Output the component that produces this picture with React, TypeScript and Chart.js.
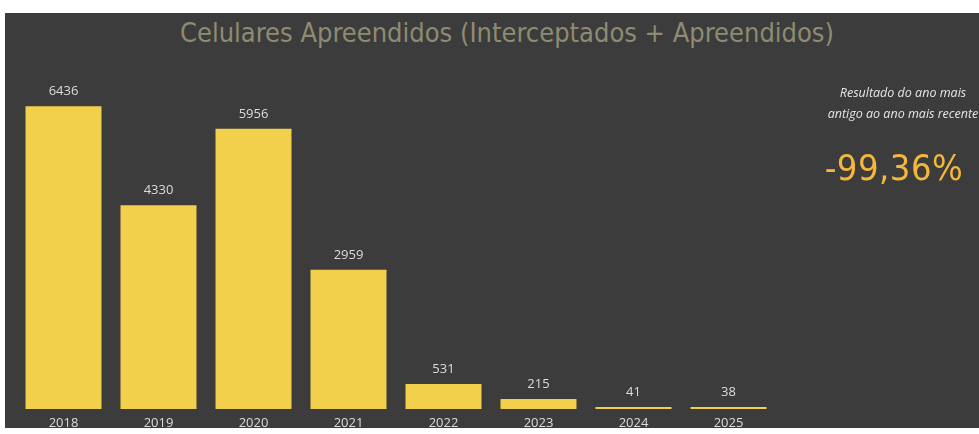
import React, { useEffect, useRef } from "react";
import { Chart, registerables } from "chart.js";

Chart.register(...registerables);

const years = ["2018", "2019", "2020", "2021", "2022", "2023", "2024", "2025"];
const seized = [6436, 4330, 5956, 2959, 531, 215, 41, 38];
const title = "Celulares Apreendidos (Interceptados + Apreendidos)";
const sideLine1 = "Resultado do ano mais";
const sideLine2 = "antigo ao ano mais recente";
const sideValue = "-99,36%";

const BAR = "#F2D04B";
const LABEL = "#DCDCDC";

const valueLabels = {
  id: "valueLabels",
  afterDatasetsDraw(chart: any) {
    const ctx = chart.ctx;
    const meta = chart.getDatasetMeta(0);
    ctx.save();
    ctx.fillStyle = LABEL;
    ctx.font = "13px 'Open Sans', 'Noto Sans', sans-serif";
    ctx.textAlign = "center";
    ctx.textBaseline = "middle";
    meta.data.forEach((el: any, i: number) => {
      ctx.fillText(String(seized[i]), el.x, el.y - 15);
    });
    ctx.restore();
  },
};

export default function App() {
  const ref = useRef<HTMLCanvasElement | null>(null);
  useEffect(() => {
    document.body.style.margin = "0";
    const chart = new Chart(ref.current as HTMLCanvasElement, {
      type: "bar",
      data: {
        labels: years,
        datasets: [
          {
            data: seized,
            backgroundColor: BAR,
            borderWidth: 0,
            barPercentage: 0.8,
            categoryPercentage: 1,
            minBarLength: 2,
          },
        ],
      },
      options: {
        animation: false,
        responsive: false,
        maintainAspectRatio: false,
        layout: { padding: { left: 16, right: 203, top: 75, bottom: 0 } },
        plugins: { legend: { display: false }, tooltip: { enabled: false }, title: { display: false } },
        scales: {
          x: {
            grid: { display: false, drawTicks: false },
            border: { display: false },
            ticks: {
              color: LABEL,
              font: { size: 13, family: "'Open Sans', 'Noto Sans', sans-serif" },
              padding: 6,
            },
            afterFit: (s: any) => {
              s.height = 25;
            },
          },
          y: { display: false, min: 0, max: 7100 },
        },
      },
      plugins: [valueLabels],
    });
    return () => chart.destroy();
  }, []);

  return (
    <div style={{ position: "relative", width: 979, height: 434, background: "#ffffff", overflow: "hidden" }}>
      <div style={{ position: "absolute", left: 5, top: 13, width: 974, height: 415, background: "#3C3C3C" }} />
      <div
        style={{
          position: "absolute",
          left: 107,
          width: 800,
          top: 14,
          textAlign: "center",
          color: "#8E8B72",
          fontFamily: "'DejaVu Sans Condensed', 'Liberation Sans Narrow', 'Roboto', sans-serif",
          fontSize: 27,
          lineHeight: "38px",
          whiteSpace: "nowrap",
        }}
      >
        {title}
      </div>
      <canvas ref={ref} width={979} height={434} style={{ position: "absolute", left: 0, top: 0 }} />
      <div
        style={{
          position: "absolute",
          left: 803,
          width: 200,
          top: 82,
          textAlign: "center",
          color: "#E6E6E6",
          fontFamily: "'Open Sans', 'Noto Sans', sans-serif",
          fontStyle: "italic",
          fontSize: 12.5,
          lineHeight: "21px",
          whiteSpace: "nowrap",
        }}
      >
        <div>{sideLine1}</div>
        <div>{sideLine2}</div>
      </div>
      <div
        style={{
          position: "absolute",
          left: 794,
          width: 200,
          top: 144,
          textAlign: "center",
          color: "#F4B73C",
          fontFamily: "'DejaVu Sans Condensed', 'Liberation Sans Narrow', 'Roboto', sans-serif",
          fontSize: 36,
          lineHeight: "48px",
          letterSpacing: 0.5,
          whiteSpace: "nowrap",
        }}
      >
        {sideValue}
      </div>
    </div>
  );
}
